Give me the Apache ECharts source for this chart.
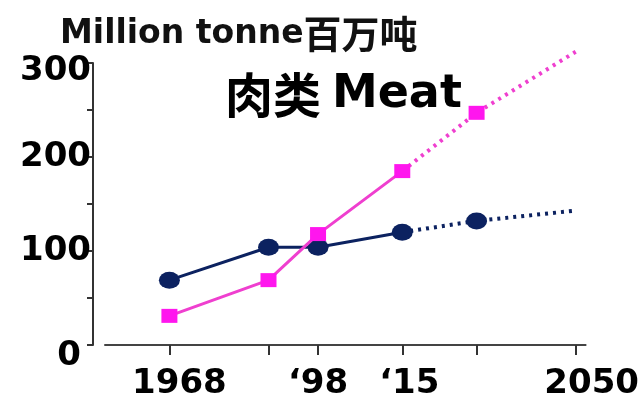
<!DOCTYPE html>
<html>
<head>
<meta charset="utf-8">
<script src="https://cdn.jsdelivr.net/npm/echarts@6/dist/echarts.min.js"></script>
<style>
  html, body { margin: 0; padding: 0; background: #fff; }
  #chart { width: 642px; height: 408px; }
</style>
</head>
<body>
<div id="chart"></div>
<script>
// data
var years = [1968, 1988, 1998, 2015, 2030, 2050];
var navyVals = [69, 104, 104, 120, 132, 143];
var pinkVals = [31, 69, 118, 185, 247, 312];
var labelYears = [1968, 1998, 2015, 2050];
var xLabels = ['1968', '\u201898', '\u201815', '2050'];
var splitAt = 3; // after '15 the lines become projections

var NAVY = '#0c2260';
var PINK_LINE = '#ef3fcf';
var PINK_MARK = '#ff16ee';
var FONT = 'DejaVu Sans';

function pairs(vals, from, to) {
  var out = [];
  for (var i = from; i <= to; i++) out.push([years[i], vals[i]]);
  return out;
}

// hide marker on the final projected point
function markerSize(size, lastHidden) {
  return function (v, p) {
    if (lastHidden && p.dataIndex === years.length - 1 - splitAt) return 0;
    return size;
  };
}

var chart = echarts.init(document.getElementById('chart'));

chart.setOption({
  animation: false,
  backgroundColor: '#fff',
  title: [{
    text: '{a|Million tonne}{b|百万吨}',
    left: 55, top: 10,
    textStyle: {
      rich: {
        a: { fontFamily: FONT, fontWeight: 'bold', fontSize: 33, color: '#111' },
        b: { fontFamily: 'Noto Sans CJK SC', fontWeight: 'bold', fontSize: 38, color: '#111' }
      }
    }
  }, {
    text: '{a|肉类 }{b|Meat}',
    left: 220, top: 66,
    textStyle: {
      rich: {
        a: { fontFamily: 'Noto Sans CJK SC', fontWeight: 'bold', fontSize: 48, color: '#000' },
        b: { fontFamily: FONT, fontWeight: 'bold', fontSize: 46, color: '#000' }
      }
    }
  }],
  grid: { left: 105, right: 52, top: 63, bottom: 63 },
  xAxis: {
    type: 'value',
    min: 1955, max: 2052,
    splitLine: { show: false },
    axisLine: { lineStyle: { color: '#444', width: 2 } },
    axisTick: {
      customValues: years,
      length: 10,
      lineStyle: { color: '#333', width: 2 }
    },
    axisLabel: {
      customValues: labelYears,
      margin: 22,
      formatter: function (v) {
        var i = labelYears.indexOf(v);
        return '{s' + i + '|' + xLabels[i] + '}';
      },
      rich: {
        s0: { fontFamily: FONT, fontWeight: 'bold', fontSize: 34, color: '#000', padding: [0, 0, 0, 20] },
        s1: { fontFamily: FONT, fontWeight: 'bold', fontSize: 34, color: '#000', padding: [0, 0, 0, 0] },
        s2: { fontFamily: FONT, fontWeight: 'bold', fontSize: 34, color: '#000', padding: [0, 0, 0, 14] },
        s3: { fontFamily: FONT, fontWeight: 'bold', fontSize: 34, color: '#000', padding: [0, 0, 0, 32] }
      }
    }
  },
  yAxis: {
    type: 'value',
    min: 0, max: 300, interval: 50,
    offset: 12,
    splitLine: { show: false },
    axisLine: { show: true, lineStyle: { color: '#333', width: 2 } },
    axisTick: { show: true, length: 6, lineStyle: { color: '#333', width: 2 } },
    axisLabel: {
      margin: 2,
      formatter: function (v) {
        if (v % 100 !== 0) return '';
        if (v === 0) return '{z|0}';
        if (v === 300) return '{t|300}';
        return '{n|' + v + '}';
      },
      rich: {
        n: { fontFamily: FONT, fontWeight: 'bold', fontSize: 34, color: '#000' },
        t: { fontFamily: FONT, fontWeight: 'bold', fontSize: 34, color: '#000', padding: [16, 0, 0, 0] },
        z: { fontFamily: FONT, fontWeight: 'bold', fontSize: 34, color: '#000', padding: [22, 10, 0, 0] }
      }
    }
  },
  series: [{
    type: 'line',
    data: pairs(navyVals, 0, splitAt),
    symbol: 'circle',
    symbolSize: [21, 17],
    itemStyle: { color: NAVY },
    lineStyle: { color: NAVY, width: 3 },
    z: 2
  }, {
    type: 'line',
    data: pairs(navyVals, splitAt, years.length - 1),
    symbol: 'circle',
    symbolSize: function (v, p) {
      return (p.dataIndex === 0 || p.dataIndex === years.length - 1 - splitAt) ? 0 : [21, 17];
    },
    itemStyle: { color: NAVY },
    lineStyle: { color: NAVY, width: 4, type: [3, 5] },
    clip: false,
    z: 2
  }, {
    type: 'line',
    data: pairs(pinkVals, 0, splitAt),
    symbol: 'rect',
    symbolSize: [16, 14],
    itemStyle: { color: PINK_MARK },
    lineStyle: { color: PINK_LINE, width: 3 },
    z: 3
  }, {
    type: 'line',
    data: pairs(pinkVals, splitAt, years.length - 1),
    symbol: 'rect',
    symbolSize: function (v, p) {
      return (p.dataIndex === 0 || p.dataIndex === years.length - 1 - splitAt) ? 0 : [16, 14];
    },
    itemStyle: { color: PINK_MARK },
    lineStyle: { color: PINK_LINE, width: 4, type: [3, 5] },
    clip: false,
    z: 3
  }]
});
</script>
</body>
</html>
